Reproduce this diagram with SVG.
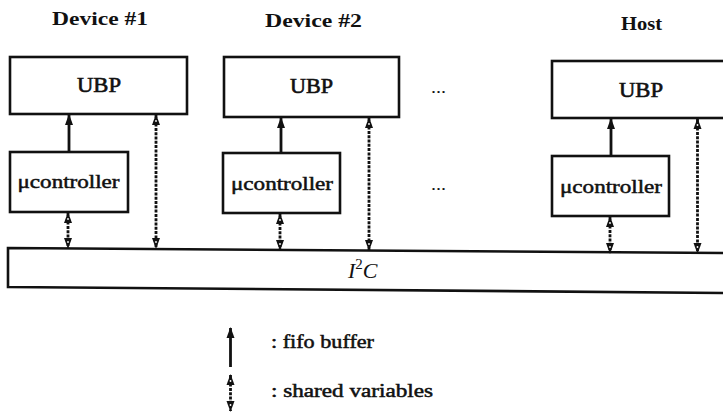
<svg xmlns="http://www.w3.org/2000/svg" width="723" height="412" viewBox="0 0 723 412">
  <style>
    .box { fill: #fff; stroke: #111; stroke-width: 2.6; }
    .title { font-family: "Liberation Serif", "DejaVu Serif", serif; font-weight: bold; font-size: 19px; fill: #111; }
    .lbl { font-family: "Liberation Serif", "DejaVu Serif", serif; font-size: 20px; fill: #111; stroke: #111; stroke-width: 0.6; }
    .mc { font-family: "Liberation Serif", "DejaVu Serif", serif; font-size: 19px; fill: #111; stroke: #111; stroke-width: 0.5; }
    .leg { font-family: "Liberation Serif", "DejaVu Serif", serif; font-size: 18px; fill: #111; stroke: #111; stroke-width: 0.5; }
    .dots { font-family: "Liberation Serif", "DejaVu Serif", serif; font-size: 16px; fill: #111; }
    .bus { font-family: "Liberation Serif", "DejaVu Serif", serif; font-style: italic; font-size: 22px; fill: #111; }
    .fifo { stroke: #111; stroke-width: 2.8; fill: none; marker-end: url(#head); }
    .shared { stroke: #111; stroke-width: 2.8; stroke-dasharray: 3 1.3; fill: none; marker-start: url(#headOpen); marker-end: url(#headOpen); }
  </style>
  <defs>
    <marker id="head" viewBox="0 -4.5 11 9" refX="10" refY="0" markerWidth="11" markerHeight="9" markerUnits="userSpaceOnUse" orient="auto-start-reverse">
      <path d="M0,-4 L11,0 L0,4 z" fill="#111"/>
    </marker>
    <marker id="headOpen" viewBox="0 -4.5 11 9" refX="10" refY="0" markerWidth="11" markerHeight="9" markerUnits="userSpaceOnUse" orient="auto-start-reverse">
      <path d="M0,-4 L11,0 L0,4 z" fill="#111"/>
      <circle cx="4" cy="0" r="0.9" fill="#fff"/>
    </marker>
  </defs>

  <!-- column headings -->
  <text class="title" x="52" y="25" textLength="96" lengthAdjust="spacingAndGlyphs">Device #1</text>
  <text class="title" x="265" y="27" textLength="97" lengthAdjust="spacingAndGlyphs">Device #2</text>
  <text class="title" x="621" y="30" textLength="41" lengthAdjust="spacingAndGlyphs">Host</text>

  <!-- Device #1 -->
  <g id="dev1-ubp">
    <rect class="box" x="10" y="57" width="177" height="57"/>
    <text class="lbl" x="77" y="92" textLength="44" lengthAdjust="spacingAndGlyphs">UBP</text>
  </g>
  <g id="dev1-mc">
    <rect class="box" x="10" y="152" width="118" height="60"/>
    <text class="mc" x="17.5" y="188" textLength="102" lengthAdjust="spacingAndGlyphs">μcontroller</text>
  </g>

  <!-- Device #2 -->
  <g id="dev2-ubp">
    <rect class="box" x="224" y="57" width="175" height="60"/>
    <text class="lbl" x="290" y="93" textLength="43" lengthAdjust="spacingAndGlyphs">UBP</text>
  </g>
  <g id="dev2-mc">
    <rect class="box" x="223" y="153" width="117" height="60"/>
    <text class="mc" x="231" y="190" textLength="102" lengthAdjust="spacingAndGlyphs">μcontroller</text>
  </g>

  <!-- ellipses between devices and host -->
  <g id="ellipsis-top"><text class="dots" x="431" y="93" textLength="15" lengthAdjust="spacingAndGlyphs">...</text></g>
  <g id="ellipsis-mid"><text class="dots" x="431" y="190" textLength="15" lengthAdjust="spacingAndGlyphs">...</text></g>

  <!-- Host -->
  <g id="host-ubp">
    <rect class="box" x="552" y="61" width="180" height="57"/>
    <text class="lbl" x="619" y="97" textLength="44" lengthAdjust="spacingAndGlyphs">UBP</text>
  </g>
  <g id="host-mc">
    <rect class="box" x="552" y="156" width="117" height="60"/>
    <text class="mc" x="560" y="193" textLength="102" lengthAdjust="spacingAndGlyphs">μcontroller</text>
  </g>

  <!-- I2C bus -->
  <g id="i2c-bus">
    <polygon class="box" points="8,248 732,253 732,293 8,287"/>
    <text class="bus" x="348" y="278">I<tspan dy="-9" font-size="15" font-style="normal">2</tspan><tspan dy="9">C</tspan></text>
  </g>

  <!-- connectors -->
  <g id="connectors">
    <line class="fifo" x1="69" y1="152" x2="69" y2="115"/>
    <line class="shared" x1="156" y1="115" x2="156" y2="248"/>
    <line class="shared" x1="68" y1="213" x2="68" y2="248"/>

    <line class="fifo" x1="281" y1="153" x2="281" y2="118"/>
    <line class="shared" x1="369" y1="118" x2="369" y2="250"/>
    <line class="shared" x1="280" y1="214" x2="280" y2="250"/>

    <line class="fifo" x1="611" y1="156" x2="611" y2="119"/>
    <line class="shared" x1="697.5" y1="119" x2="697.5" y2="253"/>
    <line class="shared" x1="610" y1="217" x2="610" y2="253"/>
  </g>

  <!-- legend -->
  <g id="legend">
    <line class="fifo" x1="230.5" y1="367" x2="230.5" y2="328"/>
    <text class="leg" x="271" y="348" textLength="103" lengthAdjust="spacingAndGlyphs">: fifo buffer</text>
    <line class="shared" x1="230.5" y1="375" x2="230.5" y2="411"/>
    <text class="leg" x="271" y="397" textLength="162" lengthAdjust="spacingAndGlyphs">: shared variables</text>
  </g>
</svg>
